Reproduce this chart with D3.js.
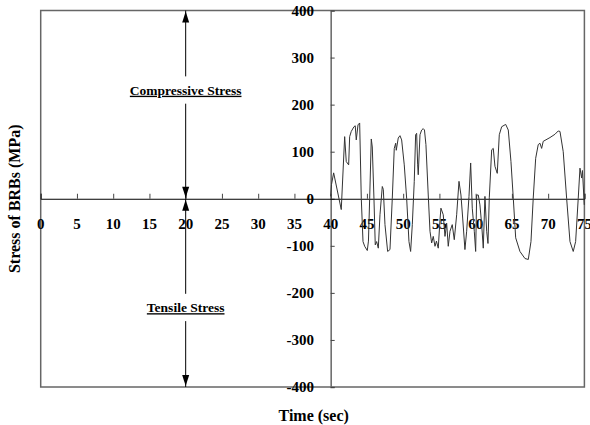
<!DOCTYPE html>
<html>
<head>
<meta charset="utf-8">
<script src="https://cdn.jsdelivr.net/npm/d3@7"></script>
<style>
  body { margin: 0; background: #fff; }
  svg text { font-family: "Liberation Serif", "DejaVu Serif", serif; font-weight: bold; }
</style>
</head>
<body>
<div id="chart"></div>
<script>
// stress history of the BRBs
const timeSec = [40.00, 40.11, 40.41, 41.46, 41.93, 42.15, 42.48, 42.62, 42.84, 43.21,
  43.39, 43.53, 43.77, 44.00, 44.22, 44.46, 44.69, 45.05, 45.21, 45.38,
  45.60, 45.74, 45.97, 46.15, 46.34, 46.57, 46.80, 47.12, 47.26, 47.49,
  47.86, 48.18, 48.50, 48.77, 48.97, 49.05, 49.32, 49.56, 49.79, 50.15,
  50.48, 50.80, 51.03, 51.26, 51.53, 51.72, 51.86, 52.00, 52.08, 52.32,
  52.55, 52.77, 52.94, 53.14, 53.46, 53.70, 53.93, 54.15, 54.39, 54.59,
  54.84, 55.08, 55.21, 55.53, 55.77, 56.00, 56.22, 56.46, 56.77, 57.05,
  57.38, 57.70, 57.97, 58.21, 58.52, 58.76, 59.08, 59.31, 59.53, 59.81,
  60.00, 60.14, 60.36, 60.59, 60.83, 61.05, 61.28, 61.52, 61.70, 61.88,
  62.21, 62.43, 62.66, 62.98, 63.26, 63.59, 64.14, 64.50, 64.87, 65.19,
  65.52, 66.11, 66.80, 67.26, 67.63, 67.94, 68.28, 68.63, 68.87, 69.10,
  69.32, 70.25, 70.94, 71.39, 71.63, 72.08, 72.55, 73.01, 73.46, 73.79,
  74.15, 74.39, 74.62, 74.73, 74.98];
const stressMPa = [5, 30, 55, -23, 132, 79, 72, 132, 143, 153,
  155, 125, 157, 161, 1, -91, -101, -110, -90, 1,
  127, 110, 1, -98, -91, -105, -34, 26, 20, -55,
  -112, -108, 1, 107, 118, 103, 129, 134, 125, 72,
  1, -91, -112, -55, 37, 136, 139, 72, 51, 136,
  146, 149, 146, 115, 8, -69, -94, -80, -101, -90,
  -105, -45, -20, -34, -80, -52, -101, -69, -55, -87,
  -34, 37, 8, -41, -108, -69, 5, 76, -20, -69,
  -112, 8, 8, -13, -55, -105, 5, -69, -95, 2,
  104, 107, 69, 54, 136, 153, 158, 146, 79, 1,
  -83, -112, -127, -129, -91, 1, 86, 115, 118, 107,
  122, 130, 137, 144, 143, 100, 1, -91, -112, -91,
  1, 65, 44, 60, -13];

const xTicks = [0, 5, 10, 15, 20, 25, 30, 35, 40, 45, 50, 55, 60, 65, 70, 75];
const yTicks = [-400, -300, -200, -100, 0, 100, 200, 300, 400];

const width = 590, height = 425;

const x = d3.scaleLinear().domain([0, 75]).range([40.7, 584.4]);
const y = d3.scaleLinear().domain([-400, 400]).range([387, 10.5]);

const svg = d3.select("#chart").append("svg")
  .attr("width", width)
  .attr("height", height);

// plot frame
svg.append("rect")
  .attr("x", x(0))
  .attr("y", y(400))
  .attr("width", x(75) - x(0))
  .attr("height", y(-400) - y(400))
  .attr("fill", "none")
  .attr("stroke", "#666")
  .attr("stroke-width", 1.5);

// y axis sits at t = 40
const yAxis = svg.append("g")
  .attr("transform", `translate(${x(40)},0)`)
  .call(d3.axisRight(y).tickValues(yTicks).tickSize(4).tickFormat(""));
yAxis.select(".domain").attr("stroke", "#666").attr("stroke-width", 1.5);
yAxis.selectAll(".tick line").attr("stroke", "#444");

svg.append("g").selectAll("text")
  .data(yTicks)
  .enter()
  .append("text")
  .attr("x", 314)
  .attr("y", d => y(d))
  .attr("dy", "0.35em")
  .attr("text-anchor", "end")
  .style("font-size", "15px")
  .text(d => d);

// x axis along the zero line
const xAxis = svg.append("g")
  .attr("transform", `translate(0,${y(0)})`)
  .call(d3.axisTop(x).tickValues(xTicks).tickSize(5).tickFormat(""));
xAxis.select(".domain").attr("stroke", "#000").attr("stroke-width", 1);
xAxis.selectAll(".tick line").attr("stroke", "#444");

svg.append("g").selectAll("text")
  .data(xTicks)
  .enter()
  .append("text")
  .attr("x", d => x(d))
  .attr("y", y(0) + 30)
  .attr("text-anchor", "middle")
  .style("font-size", "15px")
  .text(d => d);

// stress trace
const line = d3.line()
  .x((d, i) => x(timeSec[i]))
  .y(d => y(d));

svg.append("path")
  .datum(stressMPa)
  .attr("fill", "none")
  .attr("stroke", "#333")
  .attr("stroke-width", 1)
  .attr("d", line);

// annotation arrows at t = 20
function arrowHead(tipX, tipY, dir) {
  const p = d3.path();
  p.moveTo(tipX, tipY);
  p.lineTo(tipX - 3.5, tipY + dir * 11);
  p.lineTo(tipX + 3.5, tipY + dir * 11);
  p.closePath();
  return p.toString();
}

const ax = x(20);
const arrowSegs = [[400, 260], [202, 0], [0, -202], [-260, -400]];
svg.append("g").selectAll("line")
  .data(arrowSegs)
  .enter()
  .append("line")
  .attr("x1", ax)
  .attr("x2", ax)
  .attr("y1", d => y(d[0]))
  .attr("y2", d => y(d[1]))
  .attr("stroke", "#000")
  .attr("stroke-width", 1);

const heads = [[400, 1], [0, -1], [0, 1], [-400, -1]];
svg.append("g").selectAll("path")
  .data(heads)
  .enter()
  .append("path")
  .attr("d", d => arrowHead(ax, y(d[0]) + (d[1] > 0 ? 1 : -1), d[1]))
  .attr("fill", "#000");

const notes = [["Compressive Stress", 231], ["Tensile Stress", -231]];
svg.append("g").selectAll("text")
  .data(notes)
  .enter()
  .append("text")
  .attr("x", ax)
  .attr("y", d => y(d[1]))
  .attr("dy", "0.35em")
  .attr("text-anchor", "middle")
  .attr("text-decoration", "underline")
  .style("font-size", "13.5px")
  .text(d => d[0]);

// axis titles
svg.append("text")
  .attr("transform", `translate(20,${y(0)}) rotate(-90)`)
  .attr("text-anchor", "middle")
  .style("font-size", "16px")
  .text("Stress of BRBs (MPa)");

svg.append("text")
  .attr("x", x(40) - 17)
  .attr("y", 421)
  .attr("text-anchor", "middle")
  .style("font-size", "16px")
  .text("Time (sec)");
</script>
</body>
</html>
